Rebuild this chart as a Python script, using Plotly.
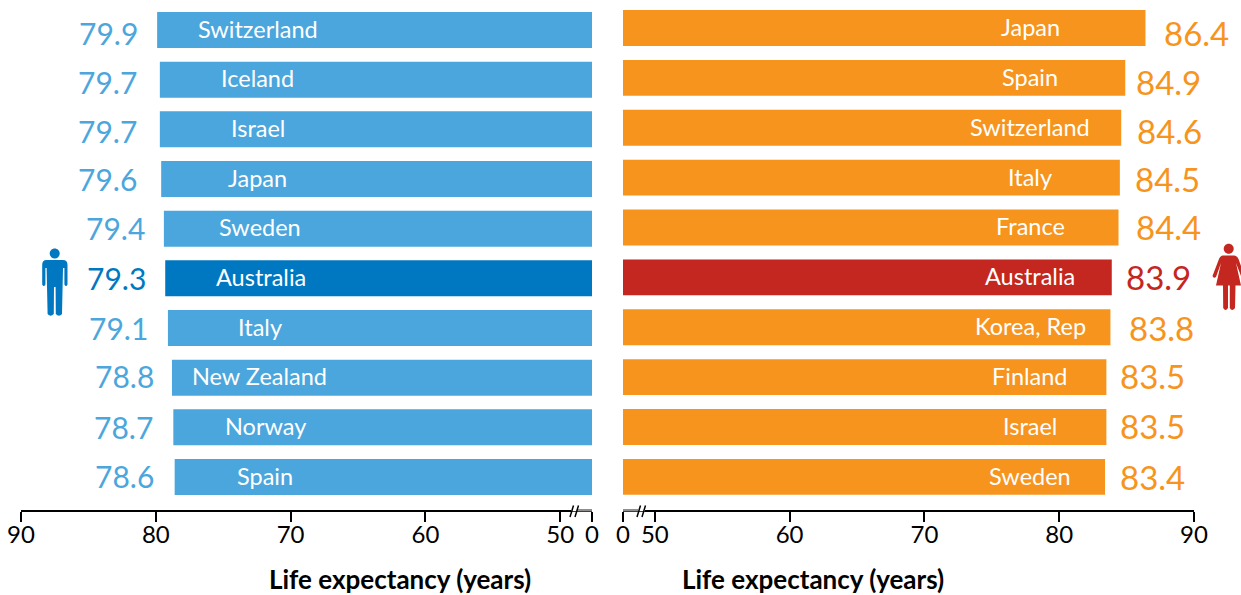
import plotly.graph_objects as go

W, H = 1241, 595

men_countries = ["Switzerland", "Iceland", "Israel", "Japan", "Sweden", "Australia", "Italy", "New Zealand", "Norway", "Spain"]
men_values = [79.9, 79.7, 79.7, 79.6, 79.4, 79.3, 79.1, 78.8, 78.7, 78.6]
women_countries = ["Japan", "Spain", "Switzerland", "Italy", "France", "Australia", "Korea, Rep", "Finland", "Israel", "Sweden"]
women_values = [86.4, 84.9, 84.6, 84.5, 84.4, 83.9, 83.8, 83.5, 83.5, 83.4]
tick_values = [50, 60, 70, 80, 90]
tick_labels = ["50", "60", "70", "80", "90"]
axis_title = "Life expectancy (years)"

BLUE, DBLUE, ORANGE, RED = "#4BA6DD", "#0078C1", "#F7941D", "#C4271F"
FONT = "Lato"
BREAK = 47.64
HL = "Australia"

# label placement (layout only)
men_name_px = [258, 257, 258, 257, 260, 261, 260, 259, 265, 265]
men_name_dy = [-1, -2, -1, -1, -2, -1, -1, -2, -1, -1]
women_name_dy = [-1, -1, -1, -1, -1, -1, -1, -1, -1, -1]
men_val_dy = [3, 2, 2, 0, -1, 0, 0, -2, 0, -1]
women_val_dy = [5, 4, 3, 1, 0, 0, 1, -1, -1, 0]
men_val_dx = [1, -3, -3, -4, 1, 1, 0, 2, 0, -1]
women_val_dx = [0, -8, -3, -4, -2, -5, 0, -5, -5, -4]


def px(x):
    return x / W


def py(y):
    return 1 - y / H


def to_path(cmds):
    out = []
    for c in cmds:
        if isinstance(c, str):
            out.append(c)
        else:
            out.append(f"{px(c[0]):.5f},{py(c[1]):.5f}")
    return " ".join(out)


def circle(cx, cy, r):
    k = r * 0.5523
    return [
        "M", (cx - r, cy),
        "C", (cx - r, cy - k), (cx - k, cy - r), (cx, cy - r),
        "C", (cx + k, cy - r), (cx + r, cy - k), (cx + r, cy),
        "C", (cx + r, cy + k), (cx + k, cy + r), (cx, cy + r),
        "C", (cx - k, cy + r), (cx - r, cy + k), (cx - r, cy),
        "Z",
    ]


def fill_shape(cmds, color):
    return dict(type="path", xref="paper", yref="paper", path=to_path(cmds),
                fillcolor=color, line=dict(width=0), layer="above")


def line_px(x0, y0, x1, y1, color="black", width=1.5):
    return dict(type="line", xref="paper", yref="paper", x0=px(x0), y0=py(y0), x1=px(x1), y1=py(y1),
                line=dict(color=color, width=width), layer="above")


man = [
    "M", (46.5, 260), "L", (63, 260), "Q", (67.5, 260), (67.5, 265), "L", (67.5, 284.5),
    "Q", (66, 287.5), (64.4, 284.5), "L", (64.4, 268), "L", (63, 268), "L", (62, 314),
    "Q", (59, 317.5), (55.8, 314), "L", (55.6, 287), "L", (54, 287), "L", (53.8, 314),
    "Q", (50.5, 317.5), (47.6, 314), "L", (46.6, 268), "L", (45.4, 268), "L", (45.4, 284.5),
    "Q", (43.8, 287.5), (42.2, 284.5), "L", (42.2, 265), "Q", (42.2, 260), (46.5, 260), "Z",
]
woman = [
    "M", (1223, 255.5), "L", (1234, 255.5), "Q", (1237, 255.5), (1238.5, 259), "L", (1241, 266),
    "L", (1241, 276), "L", (1236, 263), "L", (1241, 285.5), "L", (1235.5, 285.5), "L", (1235, 308),
    "Q", (1232, 312), (1229.8, 308), "L", (1229.8, 285.5), "L", (1228, 285.5), "L", (1228, 308),
    "Q", (1225.5, 312), (1223.2, 308), "L", (1223, 285.5), "L", (1216, 285.5), "L", (1221, 263),
    "L", (1216, 277), "Q", (1213.5, 279), (1212.5, 276), "L", (1219, 259), "Q", (1220.5, 255.5), (1223, 255.5), "Z",
]

men_colors = [DBLUE if c == HL else BLUE for c in men_countries]
women_colors = [RED if c == HL else ORANGE for c in women_countries]

fig = go.Figure()
fig.add_trace(go.Bar(y=men_countries, x=men_values, orientation="h", marker=dict(color=men_colors, line=dict(width=0)),
                     width=0.725, xaxis="x", yaxis="y", showlegend=False))
fig.add_trace(go.Bar(y=women_countries, x=women_values, orientation="h", marker=dict(color=women_colors, line=dict(width=0)),
                     width=0.72, xaxis="x2", yaxis="y2", showlegend=False))

ann = []
for i, (c, v, col) in enumerate(zip(men_countries, men_values, men_colors)):
    ann.append(dict(x=v, y=c, xref="x", yref="y", text=f"{v:.1f}", showarrow=False, xanchor="right",
                    xshift=-18 + men_val_dx[i], yshift=-men_val_dy[i], font=dict(family=FONT, size=30, color=col)))
    ann.append(dict(x=px(men_name_px[i]), y=c, xref="paper", yref="y", text=c, showarrow=False, xanchor="center",
                    yshift=-men_name_dy[i], font=dict(family=FONT, size=23.5, color="white")))
for i, (c, v, col) in enumerate(zip(women_countries, women_values, women_colors)):
    ann.append(dict(x=v, y=c, xref="x2", yref="y2", text=f"{v:.1f}", showarrow=False, xanchor="left",
                    xshift=17 + women_val_dx[i], yshift=-women_val_dy[i], font=dict(family=FONT, size=33, color=col)))
    ann.append(dict(x=px(1030), y=c, xref="paper", yref="y2", text=c, showarrow=False, xanchor="center",
                    yshift=-women_name_dy[i], font=dict(family=FONT, size=23.5, color="white")))
for cx in (400, 813):
    ann.append(dict(x=px(cx), y=py(578.5), xref="paper", yref="paper", text=f"<b>{axis_title}</b>", showarrow=False,
                    xanchor="center", yanchor="middle", font=dict(family=FONT, size=26, color="black")))

shapes = [
    fill_shape(circle(54.7, 253.5, 5), DBLUE),
    fill_shape(man, DBLUE),
    fill_shape(circle(1228.7, 248.7, 5), RED),
    fill_shape(woman, RED),
    # thin axis segment and break marks
    line_px(571, 510, 593, 510, "white", 2.5),
    line_px(577, 510, 592, 510, "#444444", 1.2),
    line_px(622, 510, 645, 510, "white", 2.5),
    line_px(623, 510, 638, 510, "#444444", 1.2),
    line_px(570, 517, 573.5, 505.5),
    line_px(575, 517, 578.5, 505.5),
    line_px(637, 517, 640.5, 505.5),
    line_px(642, 517, 645.5, 505.5),
]

axis_common = dict(showgrid=False, zeroline=False, showline=True, linecolor="black", linewidth=2, ticks="outside",
                   ticklen=10, tickwidth=2, tickcolor="black", tickvals=[BREAK] + tick_values, automargin=False,
                   ticklabelstandoff=-8,
                   ticktext=["0"] + tick_labels, tickfont=dict(family=FONT, size=24, color="black"))
yaxis_common = dict(visible=False, type="category", showgrid=False, zeroline=False, automargin=False)

y_left_top, y_right_top, y_bottom = 5.17, 3.05, 510

fig.update_layout(
    width=W, height=H, margin=dict(l=0, r=0, t=0, b=0, pad=0), paper_bgcolor="white", plot_bgcolor="white",
    barmode="overlay", showlegend=False,
    xaxis=dict(domain=[px(21), px(592)], range=[90, BREAK], anchor="y", **axis_common),
    xaxis2=dict(domain=[px(623), px(1194)], range=[BREAK, 90], anchor="y2", **axis_common),
    yaxis=dict(domain=[py(y_bottom), py(y_left_top)], anchor="x", range=[9.665, -0.5],
               categoryorder="array", categoryarray=men_countries, **yaxis_common),
    yaxis2=dict(domain=[py(y_bottom), py(y_right_top)], anchor="x2", range=[9.665, -0.5],
                categoryorder="array", categoryarray=women_countries, **yaxis_common),
    annotations=ann, shapes=shapes, font=dict(family=FONT),
)

fig.write_html("out.html", config={"displayModeBar": False}, post_script="document.body.style.margin='0';")
